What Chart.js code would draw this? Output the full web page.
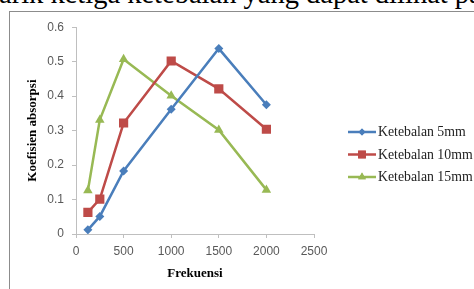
<!DOCTYPE html>
<html>
<head>
<meta charset="utf-8">
<script src="https://cdn.jsdelivr.net/npm/chart.js@4.4.1/dist/chart.umd.min.js"></script>
<style>
  body { margin: 0; width: 474px; height: 289px; overflow: hidden; background: #fff; position: relative; }
  #para { position: absolute; left: -1px; top: -20px; font: 28.5px/28px "Liberation Serif", serif; white-space: nowrap; color: #000; }
  #box { position: absolute; left: 9px; top: 11px; width: 480px; height: 300px; border-left: 1px solid #8c8c8c; border-top: 1px solid #8c8c8c; }
  #wrap { position: absolute; left: 10px; top: 12px; width: 464px; height: 277px; }
</style>
</head>
<body>
<div id="para">arik ketiga ketebalan yang dapat dilihat pada</div>
<div id="box"></div>
<div id="wrap"><canvas id="chart"></canvas></div>
<script>
// frequencies (Hz) and absorption coefficients per thickness
var frekuensi = [125, 250, 500, 1000, 1500, 2000];
var tebal5  = [0.012, 0.051, 0.183, 0.362, 0.538, 0.375];
var tebal10 = [0.063, 0.101, 0.322, 0.502, 0.421, 0.304];
var tebal15 = [0.126, 0.331, 0.507, 0.401, 0.302, 0.128];
var labels  = ['Ketebalan 5mm', 'Ketebalan 10mm', 'Ketebalan 15mm'];

function toPoints(vals) {
    return frekuensi.map(function (f, i) { return { x: f, y: vals[i] }; });
}

var axisColor = '#bfbfbf';
var tickFont = { family: 'Liberation Sans', size: 12 };
var titleFont = { family: 'Liberation Serif', size: 13, weight: 'bold' };

// legend drawn at the right, line + marker like the original
var sideLegend = {
    id: 'sideLegend',
    afterDraw: function (chart) {
        var ctx = chart.ctx;
        var x0 = chart.chartArea.right + 34;
        var sizes = [3.5, 5.5, 4.5];
        chart.data.datasets.forEach(function (ds, i) {
            var y = 120 + i * 22.5;
            ctx.save();
            ctx.strokeStyle = ds.borderColor;
            ctx.lineWidth = 2.5;
            ctx.beginPath();
            ctx.moveTo(x0, y);
            ctx.lineTo(x0 + 28, y);
            ctx.stroke();
            ctx.fillStyle = ds.backgroundColor;
            Chart.helpers.drawPoint(ctx, { pointStyle: ds.pointStyle, radius: sizes[i], rotation: 0, borderWidth: 0 }, x0 + 14, y);
            ctx.fill();
            ctx.fillStyle = '#222';
            ctx.font = '13.8px "Liberation Serif"';
            ctx.textBaseline = 'middle';
            ctx.fillText(ds.label, x0 + 30, y + 0.5);
            ctx.restore();
        });
    }
};

var ctx = document.getElementById('chart').getContext('2d');
var chart = new Chart(ctx, {
    type: 'line',
    data: {
        datasets: [{
            label: labels[0],
            data: toPoints(tebal5),
            borderColor: '#4a7ebb',
            backgroundColor: '#4a7ebb',
            pointStyle: 'rectRot',
            pointRadius: 4.5
        }, {
            label: labels[1],
            data: toPoints(tebal10),
            borderColor: '#be4b48',
            backgroundColor: '#be4b48',
            pointStyle: 'rect',
            pointRadius: 6.5
        }, {
            label: labels[2],
            data: toPoints(tebal15),
            borderColor: '#98b954',
            backgroundColor: '#98b954',
            pointStyle: 'triangle',
            pointRadius: 5.5
        }]
    },
    options: {
        responsive: true,
        maintainAspectRatio: false,
        animation: false,
        elements: {
            line: { borderWidth: 2.5, tension: 0 },
            point: { borderWidth: 0 }
        },
        layout: { padding: { top: 15, right: 160, left: 0, bottom: 0 } },
        scales: {
            x: {
                type: 'linear',
                min: 0,
                max: 2500,
                ticks: { stepSize: 500, font: tickFont, color: '#595959', padding: 6,
                         callback: function (v) { return v; } },
                grid: { drawOnChartArea: false, tickLength: 4, color: axisColor },
                border: { color: axisColor },
                title: { display: true, text: 'Frekuensi', font: titleFont, color: '#000', padding: { top: 0, bottom: 8 } },
                afterFit: function (s) { s.height = 55; }
            },
            y: {
                min: 0,
                max: 0.6,
                ticks: { stepSize: 0.1, font: tickFont, color: '#595959', padding: 8,
                         callback: function (v) { return +v.toFixed(1); } },
                grid: { drawOnChartArea: false, tickLength: 4, color: axisColor },
                border: { color: axisColor },
                title: { display: true, text: 'Koefisien absorpsi', font: titleFont, color: '#000', padding: { top: 15, bottom: 0 } },
                afterFit: function (s) { s.width = 66; }
            }
        },
        plugins: {
            legend: { display: false },
            tooltip: { enabled: false }
        }
    },
    plugins: [sideLegend]
});
</script>
</body>
</html>
